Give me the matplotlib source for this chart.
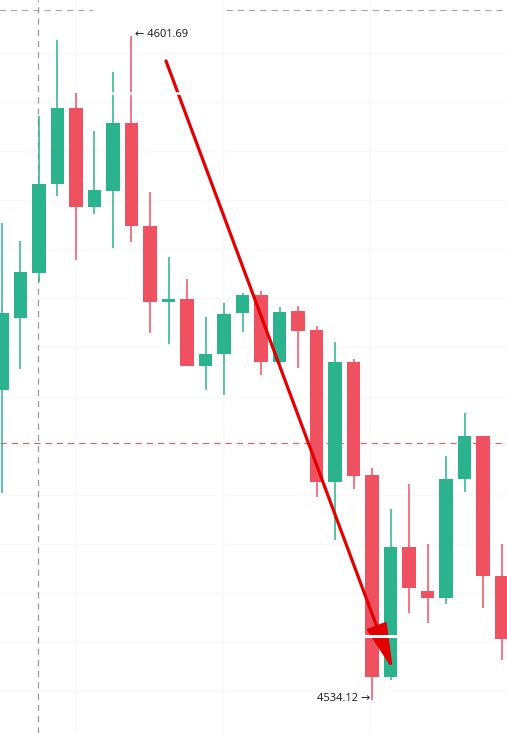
import matplotlib.pyplot as plt

# candle data
opens = [4565.7, 4573.0, 4577.6, 4586.6, 4594.4, 4584.3, 4585.9, 4592.8, 4582.4, 4574.6,
         4574.9, 4568.1, 4569.3, 4573.5, 4575.3, 4568.5, 4573.7, 4571.8, 4556.3, 4568.5,
         4557.0, 4536.5, 4549.7, 4545.2, 4544.5, 4556.6, 4561.0, 4546.7]
highs = [4582.7, 4580.8, 4593.5, 4601.3, 4595.9, 4592.0, 4598.0, 4601.69, 4585.8, 4579.2,
         4577.0, 4573.1, 4574.5, 4575.5, 4575.7, 4574.1, 4574.2, 4572.2, 4570.5, 4568.8,
         4557.7, 4553.6, 4556.1, 4550.0, 4558.9, 4563.3, 4561.0, 4550.0]
lows = [4555.2, 4567.8, 4576.7, 4585.4, 4578.9, 4583.6, 4580.1, 4580.7, 4571.5, 4570.3,
        4568.1, 4565.7, 4565.2, 4571.6, 4567.2, 4568.3, 4567.9, 4554.8, 4550.4, 4555.6,
        4534.12, 4536.2, 4543.0, 4542.0, 4543.9, 4555.3, 4543.5, 4538.2]
closes = [4573.5, 4577.7, 4586.6, 4594.4, 4584.3, 4586.0, 4592.8, 4582.4, 4574.6, 4574.9,
          4568.1, 4569.3, 4573.4, 4575.3, 4568.5, 4573.6, 4571.7, 4556.3, 4568.5, 4556.9,
          4536.5, 4549.7, 4545.5, 4544.5, 4556.6, 4561.0, 4546.7, 4540.3]

high_label = "← 4601.69"
low_label = "4534.12 →"

green = "#2bb38e"
red = "#ef5160"

fig = plt.figure(figsize=(5.07, 7.33), dpi=100)
ax = fig.add_axes([0, 0, 1, 1])
ax.set_xlim(-0.108, 27.297)
ax.set_ylim(4530.76, 4605.35)
ax.axis("off")

# faint grid
for p in range(4535, 4605, 5):
    ax.axhline(p, color="#f8f8f8", lw=1, zorder=0)
for gx in [3.95, 11.95, 19.9]:
    ax.axvline(gx, color="#f8f8f8", lw=1, zorder=0)

# crosshair lines
ax.axvline(1.95, color="#999999", lw=0.9, ls=(0, (5, 4)), zorder=1)
ax.axhline(4560.3, color="#c07070", lw=0.9, ls=(0, (5, 4)), zorder=1)
ax.hlines(4604.3, -0.2, 4.9, color="#aaaaaa", lw=0.9, ls=(0, (5, 4)), zorder=1)
ax.hlines(4604.3, 12.1, 27.5, color="#aaaaaa", lw=0.9, ls=(0, (5, 4)), zorder=1)

for i in range(len(opens)):
    c = green if closes[i] >= opens[i] else red
    ax.vlines(i, lows[i], highs[i], color=c, lw=1.1, zorder=2)
    bottom = min(opens[i], closes[i])
    h = max(abs(closes[i] - opens[i]), 0.35)
    ax.bar(i, h, bottom=bottom, width=0.74, color=c, zorder=3)

# trend arrow
ax.annotate("", xy=(21.135, 4537.17), xytext=(8.865, 4599.15),
            arrowprops=dict(arrowstyle="-|>,head_length=1.4,head_width=0.32",
                            mutation_scale=20, color="#e30000", lw=2.3,
                            shrinkA=0, shrinkB=0),
            zorder=5)

# white gaps seen in the picture
ax.hlines(4595.9, 5.3, 9.9, color="white", lw=1.8, zorder=6)
ax.hlines(4540.63, 19.55, 21.4, color="white", lw=2.2, zorder=6)

ax.text(7.19, 4601.89, high_label, ha="left", va="center", fontsize=8,
        family=["Noto Sans", "DejaVu Sans"], color="#222222", zorder=7)
ax.text(19.89, 4534.32, low_label, ha="right", va="center", fontsize=8,
        family=["Noto Sans", "DejaVu Sans"], color="#222222", zorder=7)

fig.savefig("out.png", dpi=100)
